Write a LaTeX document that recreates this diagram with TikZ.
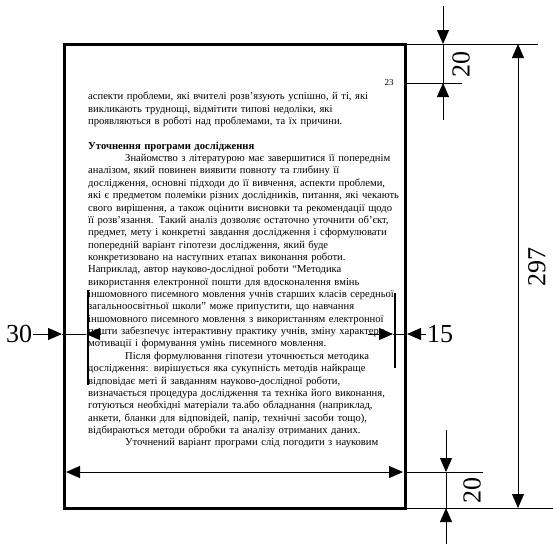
\documentclass[tikz,border=0pt]{standalone}
\usepackage{fontspec}
\setmainfont{Liberation Serif}
\usetikzlibrary{arrows.meta}

\tikzset{
  sheet/.style={line width=3pt},
  dimline/.style={line width=1pt},
  tip/.style={-{Triangle[length=14pt,width=12pt]}},
  bothtips/.style={{Triangle[length=14pt,width=12pt]}-{Triangle[length=14pt,width=12pt]}},
  dimlabel/.style={font=\fontsize{26}{26}\selectfont, inner sep=1pt},
}

\begin{document}
\begin{tikzpicture}[x=1pt,y=-1pt]
\useasboundingbox (0,0) rectangle (553,544);
\coordinate (nw) at (64,44);
\coordinate (se) at (405,508);

\node (body) [anchor=north west, inner sep=0pt, text width=330pt, align=left,
  font=\fontsize{10.6}{12.36}\selectfont] at (88,92) {%
аспекти проблеми, які вчителі розв’язують успішно, й ті, які\\
викликають труднощі, відмітити типові недоліки, які\\
проявляються в роботі над проблемами, та їх причини.\\[12.36pt]
\textbf{Уточнення програми дослідження}\\
\hspace*{37pt}Знайомство з літературою має завершитися її попереднім\\
аналізом, який повинен виявити повноту та глибину її\\
дослідження, основні підходи до її вивчення, аспекти проблеми,\\
які є предметом полеміки різних дослідників, питання, які чекають\\
свого вирішення, а також оцінити висновки та рекомендації щодо\\
її розв’язання. Такий аналіз дозволяє остаточно уточнити об’єкт,\\
предмет, мету і конкретні завдання дослідження і сформулювати\\
попередній варіант гіпотези дослідження, який буде\\
конкретизовано на наступних етапах виконання роботи.\\
Наприклад, автор науково-дослідної роботи “Методика\\
використання електронної пошти для вдосконалення вмінь\\
іншомовного писемного мовлення учнів старших класів середньої\\
загальноосвітньої школи” може припустити, що навчання\\
іншомовного писемного мовлення з використанням електронної\\
пошти забезпечує інтерактивну практику учнів, зміну характеру\\
мотивації і формування умінь писемного мовлення.\\
\hspace*{37pt}Після формулювання гіпотези уточнюється методика\\
дослідження: вирішується яка сукупність методів найкраще\\
відповідає меті й завданням науково-дослідної роботи,\\
визначається процедура дослідження та техніка його виконання,\\
готуються необхідні матеріали та.або обладнання (наприклад,\\
анкети, бланки для відповідей, папір, технічні засоби тощо),\\
відбираються методи обробки та аналізу отриманих даних.\\
\hspace*{37pt}Уточнений варіант програми слід погодити з науковим};
\node (pagenum) [font=\fontsize{9}{9}\selectfont] at (389,83) {23};

\draw[sheet] (nw) rectangle (se);

% extension lines
\coordinate (t0) at (405,44);  \coordinate (t0e) at (538,44);
\coordinate (t1) at (405,83);  \coordinate (t1e) at (462,83);
\coordinate (b1) at (405,472); \coordinate (b1e) at (483,472);
\coordinate (b0) at (405,508); \coordinate (b0e) at (553,508);
\draw[dimline] (t0) -- (t0e) (t1) -- (t1e) (b1) -- (b1e) (b0) -- (b0e);

% top margin
\coordinate (ta) at (443,6);   \coordinate (tb) at (443,44);
\coordinate (tc) at (443,83);  \coordinate (td) at (443,120);
\draw[dimline] (tb) -- (tc);
\draw[dimline,tip] (ta) -- (tb);
\draw[dimline,tip] (td) -- (tc);
\node (topgap) [dimlabel, rotate=90] at (461,64) {20};

% bottom margin
\coordinate (ba) at (446,430); \coordinate (bb) at (446,472);
\coordinate (bc) at (446,508); \coordinate (bd) at (446,544);
\draw[dimline] (bb) -- (bc);
\draw[dimline,tip] (ba) -- (bb);
\draw[dimline,tip] (bd) -- (bc);
\node (botgap) [dimlabel, rotate=90] at (472,490) {20};

% height and width
\coordinate (ha) at (518,44);  \coordinate (hb) at (518,508);
\draw[dimline,bothtips] (ha) -- (hb);
\node (height) [dimlabel, rotate=90] at (537,267) {297};
\coordinate (wa) at (66,472);  \coordinate (wb) at (403,472);
\draw[dimline,bothtips] (wa) -- (wb);

% text margins
\coordinate (ml0) at (88,290);  \coordinate (ml1) at (88,385);
\coordinate (mr0) at (395,293); \coordinate (mr1) at (395,368);
\draw[line width=1.3pt] (ml0) -- (ml1) (mr0) -- (mr1);

% left margin
\node (leftgap) [dimlabel] at (19,334) {30};
\coordinate (l1) at (62,334); \coordinate (l2) at (86,334); \coordinate (l3) at (100,334);
\draw[dimline,tip] (leftgap.east) -- (l1);
\draw[dimline] (l1) -- (l2);
\draw[dimline,tip] (l3) -- (l2);

% right margin
\node (rightgap) [dimlabel] at (440,334) {15};
\coordinate (r0) at (368,334); \coordinate (r1) at (393,334); \coordinate (r2) at (407,334);
\draw[dimline,tip] (r0) -- (r1);
\draw[dimline] (r1) -- (r2);
\draw[dimline,tip] (rightgap.west) -- (r2);
\end{tikzpicture}
\end{document}
